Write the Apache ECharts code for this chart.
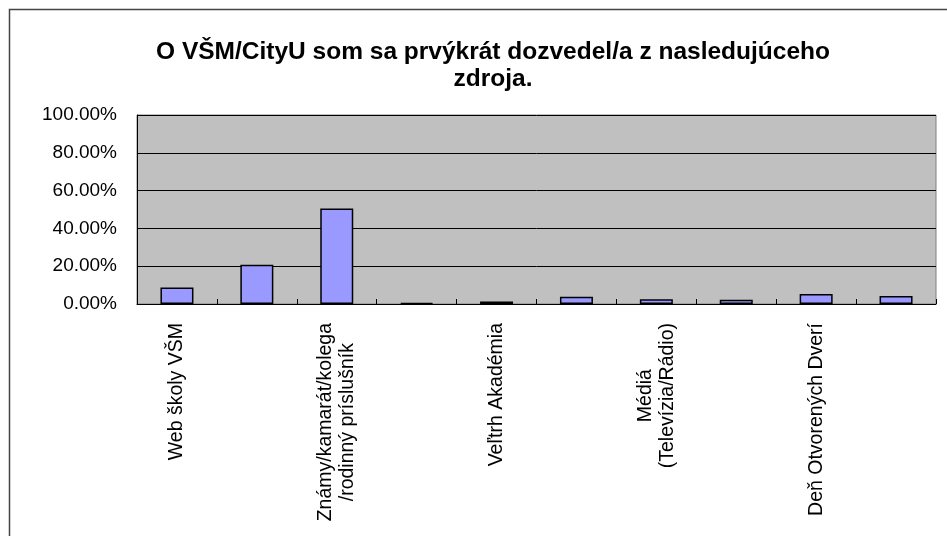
<!DOCTYPE html>
<html>
<head>
<meta charset="UTF-8"/>
<title></title>
<script src="https://cdn.jsdelivr.net/npm/echarts@6/dist/echarts.min.js"></script>
<style>
html, body { margin: 0; padding: 0; background: #fff; }
#chart { width: 947px; height: 536px; }
</style>
</head>
<body>
<div id="chart"></div>
<script>
// kategórie (každá druhá je v Exceli skrytá)
var categories = [
  'Web školy VŠM',
  'Internet',
  'Známy/kamarát/kolega\n/rodinný príslušník',
  'Veľtrh Gaudeamus',
  'Veľtrh Akadémia',
  'Tlač (noviny/časopisy)',
  'Médiá\n(Televízia/Rádio)',
  'Reklama/plagát',
  'Deň Otvorených Dverí',
  'Iné'
];
var values = [8.7, 20.8, 50.5, 0.6, 1.3, 3.9, 2.5, 2.3, 5.3, 4.2];
var yTicks = [0, 20, 40, 60, 80, 100];

var myChart = echarts.init(document.getElementById('chart'));
var option = {
  animation: false,
  title: {
    text: 'O VŠM/CityU som sa prvýkrát dozvedel/a z nasledujúceho\nzdroja.',
    left: 488,
    top: 34,
    textAlign: 'center',
    textStyle: {
      fontFamily: 'Liberation Sans, Arial',
      fontWeight: 'bold',
      fontSize: 24.5,
      lineHeight: 27,
      color: '#000'
    }
  },
  graphic: [{
    type: 'polyline',
    shape: { points: [[9.5, 540], [9.5, 9.5], [950, 9.5]] },
    style: { stroke: '#444', lineWidth: 1.5, fill: null }
  }],
  grid: {
    left: 137,
    right: 11,
    top: 115,
    bottom: 232,
    show: true,
    backgroundColor: '#C0C0C0',
    borderColor: '#808080',
    borderWidth: 1
  },
  xAxis: {
    type: 'category',
    data: categories,
    axisLine: { lineStyle: { color: '#000', width: 1 } },
    axisTick: { show: true, inside: true, length: 5, interval: 0, lineStyle: { color: '#000' } },
    axisLabel: {
      interval: 1,
      rotate: 90,
      margin: 19,
      align: 'right',
      verticalAlign: 'middle',
      formatter: function (v) {
        return v.split('\n').map(function (s) { return '{c|' + s + '}'; }).join('\n');
      },
      rich: {
        c: {
          align: 'center',
          fontFamily: 'Liberation Sans, Arial',
          fontSize: 19.5,
          lineHeight: 22,
          color: '#000'
        }
      }
    }
  },
  yAxis: {
    type: 'value',
    min: 0,
    max: 100,
    interval: 20,
    axisLine: { show: true, lineStyle: { color: '#000' } },
    axisTick: { show: false },
    splitLine: { lineStyle: { color: '#000', width: 1 } },
    axisLabel: {
      margin: 20,
      fontFamily: 'Liberation Sans, Arial',
      fontSize: 19,
      color: '#000',
      formatter: function (v) {
        return yTicks.indexOf(v) >= 0 ? v.toFixed(2) + '%' : '';
      }
    }
  },
  series: [{
    type: 'bar',
    data: values,
    barWidth: 33,
    itemStyle: { color: '#9999FF', borderColor: '#000', borderWidth: 1.5 }
  }]
};
myChart.setOption(option);
</script>
</body>
</html>
